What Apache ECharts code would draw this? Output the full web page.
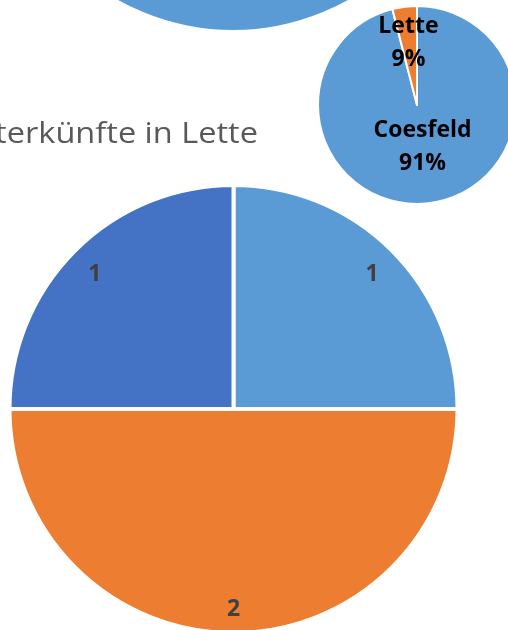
<!DOCTYPE html>
<html>
<head>
<meta charset="utf-8">
<script src="https://cdn.jsdelivr.net/npm/echarts@6/dist/echarts.min.js"></script>
<style>
  html, body { margin: 0; padding: 0; background: #ffffff; }
  #chart { width: 508px; height: 630px; }
</style>
</head>
<body>
<div id="chart"></div>
<script>
// ---- data ----
const titleText = 'Unterkünfte in Lette';

// top pie (only its lower edge is visible in the crop)
const topCategories = ['Coesfeld'];
const topValues = [1];

// small pie: Coesfeld vs Lette
const smallCategories = ['Coesfeld', 'Lette'];
const smallSliceShare = [96, 4];          // slice sizes as drawn
const smallLabelPercent = ['91%', '9%'];   // percentages printed in the labels

// big pie: counts
const bigCategories = ['Kategorie 1', 'Kategorie 2', 'Kategorie 3'];
const bigValues = [1, 2, 1];

// ---- styles ----
const LIGHT_BLUE = '#5B9BD5';
const ORANGE = '#ED7D31';
const DARK_BLUE = '#4472C4';
const bigColors = [LIGHT_BLUE, ORANGE, DARK_BLUE];
const smallColors = [LIGHT_BLUE, ORANGE];

const chart = echarts.init(document.getElementById('chart'), null, { renderer: 'canvas' });

const option = {
  backgroundColor: '#ffffff',
  animation: false,
  graphic: [{
    type: 'text',
    x: 258,
    y: 119,
    scaleX: 1.085,
    style: {
      text: titleText,
      font: '30px "Open Sans"',
      fill: '#595959',
      textAlign: 'right',
      textVerticalAlign: 'top',
      align: 'right',
      verticalAlign: 'top'
    }
  }],
  series: [
    {
      type: 'pie',
      center: [233, -205],
      radius: 235,
      startAngle: 90,
      silent: true,
      label: { show: false },
      labelLine: { show: false },
      itemStyle: { color: LIGHT_BLUE },
      data: topCategories.map((n, i) => ({ name: n, value: topValues[i] }))
    },
    {
      type: 'pie',
      center: [417, 105],
      radius: 99,
      startAngle: 90,
      clockwise: true,
      silent: true,
      itemStyle: { borderColor: '#ffffff', borderWidth: 2 },
      label: {
        show: true,
        position: 'inside',
        color: '#000000',
        fontFamily: 'Open Sans',
        fontWeight: 'bold',
        fontSize: 23,
        lineHeight: 33,
        formatter: p => p.name + '\n' + smallLabelPercent[p.dataIndex]
      },
      labelLine: { show: false },
      labelLayout: function (params) {
        return params.dataIndex === 1 ? { dx: -2, dy: -10 } : { dx: -1, dy: -10 };
      },
      data: smallCategories.map((n, i) => ({
        name: n, value: smallSliceShare[i], itemStyle: { color: smallColors[i] }
      }))
    },
    {
      type: 'pie',
      center: [233.5, 409],
      radius: 224,
      startAngle: 90,
      clockwise: true,
      silent: true,
      itemStyle: { borderColor: '#ffffff', borderWidth: 4 },
      label: { show: false },
      labelLine: { show: false },
      data: bigCategories.map((n, i) => ({
        name: n, value: bigValues[i], itemStyle: { color: bigColors[i] }
      }))
    },
    {
      // label ring for the big pie (transparent), places values near the rim
      type: 'pie',
      center: [233.5, 409],
      radius: [164, 222],
      startAngle: 90,
      clockwise: true,
      silent: true,
      itemStyle: { color: 'rgba(0,0,0,0)' },
      label: {
        show: true,
        position: 'inside',
        color: '#404040',
        fontFamily: 'Open Sans',
        fontWeight: 'bold',
        fontSize: 23,
        formatter: p => String(p.value)
      },
      labelLine: { show: false },
      labelLayout: function () { return { dy: 4 }; },
      data: bigCategories.map((n, i) => ({ name: n, value: bigValues[i] }))
    }
  ]
};

chart.setOption(option);
</script>
</body>
</html>
